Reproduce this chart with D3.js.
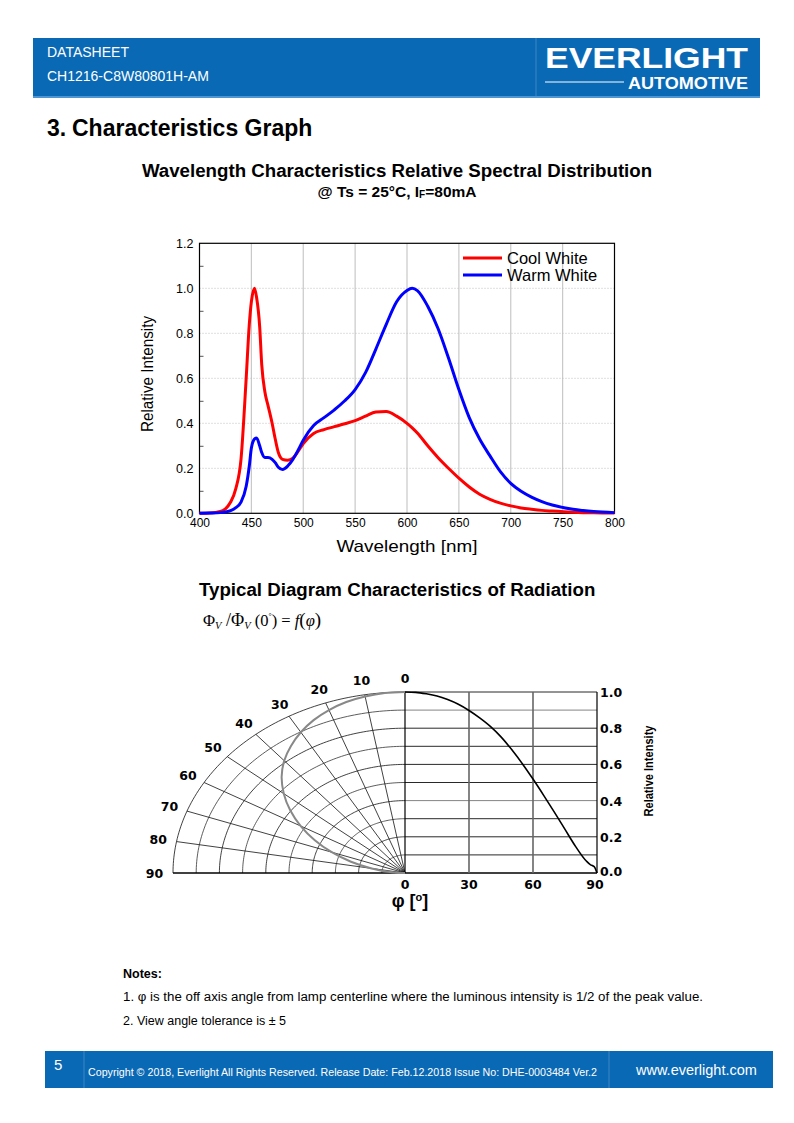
<!DOCTYPE html>
<html>
<head>
<meta charset="utf-8">
<script src="https://cdn.jsdelivr.net/npm/d3@7"></script>
<style>
  body { margin: 0; background: #fff; }
  svg { display: block; font-family: "Liberation Sans", Arial, sans-serif; }
</style>
</head>
<body>
<svg id="page" width="794" height="1123"></svg>
<script>
// ---- spectral data ----
var wavelengths = [400,410,420,425,430,435,440,445,448,450,453,455,458,460,463,466,470,473,476,480,485,490,495,500,510,520,530,540,550,560,570,580,590,600,605,610,620,630,640,650,660,670,680,690,700,710,720,730,740,760,780,800];
var coolWhite = [0,0.001,0.008,0.02,0.05,0.11,0.24,0.60,0.84,0.94,1.00,0.96,0.83,0.66,0.54,0.48,0.40,0.33,0.27,0.24,0.236,0.245,0.275,0.31,0.355,0.372,0.385,0.398,0.412,0.432,0.450,0.452,0.432,0.400,0.38,0.357,0.300,0.247,0.200,0.156,0.117,0.085,0.062,0.045,0.033,0.024,0.018,0.013,0.010,0.005,0.002,0.001];
var warmWhite = [0,0.001,0.003,0.006,0.012,0.025,0.05,0.12,0.21,0.29,0.33,0.335,0.30,0.27,0.248,0.248,0.24,0.225,0.205,0.195,0.21,0.24,0.28,0.325,0.39,0.425,0.46,0.50,0.55,0.625,0.73,0.84,0.94,0.99,1.0,0.99,0.92,0.82,0.69,0.55,0.425,0.33,0.255,0.185,0.133,0.098,0.072,0.052,0.037,0.018,0.008,0.003];
var seriesNames = ["Cool White","Warm White"];
var seriesColors = ["#ff0000","#0000ff"];
var xTicks = [400,450,500,550,600,650,700,750,800];
var yTicks = [0,0.2,0.4,0.6,0.8,1.0,1.2];

// ---- radiation data ----
var angles = [0,5,10,15,20,25,30,35,40,45,50,55,60,65,70,75,80,85,87,88,89,90];
var intensity = [1,0.998,0.99,0.978,0.958,0.932,0.898,0.857,0.81,0.752,0.682,0.604,0.519,0.429,0.336,0.241,0.146,0.066,0.045,0.04,0.03,0];
var polarLabels = [0,10,20,30,40,50,60,70,80,90];
var angleTicks = [0,30,60,90];
var intTicks = [0,0.2,0.4,0.6,0.8,1.0];

var svg = d3.select("#page");
var blue = "#0a69b4";
var heavy = "DejaVu Sans, Liberation Sans, sans-serif";

// ---- header ----
svg.append("rect").attr("x",33).attr("y",38).attr("width",727).attr("height",60).attr("fill",blue);
svg.append("rect").attr("x",33).attr("y",96).attr("width",727).attr("height",2).attr("fill","#4d95d3");
svg.append("line").attr("x1",536).attr("x2",536).attr("y1",38).attr("y2",96).attr("stroke","#3f86c6").attr("stroke-width",1);
svg.append("text").attr("x",47).attr("y",57).attr("fill","#fff").attr("font-size",14).text("DATASHEET");
svg.append("text").attr("x",47).attr("y",81).attr("fill","#fff").attr("font-size",14).text("CH1216-C8W80801H-AM");
svg.append("text").attr("x",545).attr("y",68).attr("fill","#fff").attr("font-size",30).attr("font-weight","bold")
  .attr("textLength",203).attr("lengthAdjust","spacingAndGlyphs").text("EVERLIGHT");
svg.append("line").attr("x1",545).attr("x2",624).attr("y1",82).attr("y2",82).attr("stroke","#fff").attr("stroke-width",1);
svg.append("text").attr("x",628).attr("y",89).attr("fill","#fff").attr("font-size",17).attr("font-weight","bold")
  .attr("textLength",120).attr("lengthAdjust","spacingAndGlyphs").text("AUTOMOTIVE");

// ---- section title ----
svg.append("text").attr("x",47).attr("y",136).attr("font-size",23).attr("font-weight","bold").text("3.");
svg.append("text").attr("x",72).attr("y",136).attr("font-size",23).attr("font-weight","bold").text("Characteristics Graph");

// ---- spectral chart ----
svg.append("text").attr("x",397).attr("y",177).attr("text-anchor","middle").attr("font-size",18.7).attr("font-weight","bold")
  .text("Wavelength Characteristics Relative Spectral Distribution");
var sub = svg.append("text").attr("x",397).attr("y",197).attr("text-anchor","middle").attr("font-size",15.5).attr("font-weight","bold");
sub.append("tspan").text("@ Ts = 25°C, I");
sub.append("tspan").attr("font-size",10).attr("dy",1).text("F");
sub.append("tspan").attr("dy",-1).text("=80mA");

var x = d3.scaleLinear().domain([400,800]).range([199.5,614.5]);
var y = d3.scaleLinear().domain([0,1.2]).range([513.3,243.3]);

var g = svg.append("g");
// vertical grid
g.selectAll(".vg").data(xTicks.slice(1,-1)).enter().append("line")
  .attr("x1",function(d){return x(d);}).attr("x2",function(d){return x(d);})
  .attr("y1",y(0)).attr("y2",y(1.2)).attr("stroke","#c8c8c8").attr("stroke-width",1.2);
// horizontal dotted grid
g.selectAll(".hg").data(yTicks.slice(1,-1)).enter().append("line")
  .attr("x1",x(400)).attr("x2",x(800))
  .attr("y1",function(d){return y(d);}).attr("y2",function(d){return y(d);})
  .attr("stroke","#bdbdbd").attr("stroke-width",1).attr("stroke-dasharray","1,2");
// minor ticks inside left
g.append("g").attr("transform","translate("+x(400)+",0)")
  .call(d3.axisRight(y).tickValues([0.1,0.3,0.5,0.7,0.9,1.1]).tickSize(4).tickFormat(""))
  .call(function(a){a.select(".domain").remove(); a.selectAll("line").attr("stroke","#555");});
// frame
g.append("rect").attr("x",x(400)).attr("y",y(1.2)).attr("width",x(800)-x(400)).attr("height",y(0)-y(1.2))
  .attr("fill","none").attr("stroke","#000").attr("stroke-width",1.2);
// axes labels
var ya = g.append("g").attr("transform","translate("+x(400)+",0)")
  .call(d3.axisLeft(y).tickValues(yTicks).tickSize(0).tickPadding(6).tickFormat(d3.format(".1f")));
ya.select(".domain").remove();
ya.selectAll("text").attr("font-size",12.5).attr("font-family","Liberation Sans, Arial").attr("fill","#000");
var xa = g.append("g").attr("transform","translate(0,"+y(0)+")")
  .call(d3.axisBottom(x).tickValues(xTicks).tickSize(0).tickPadding(5));
xa.select(".domain").remove();
xa.selectAll("text").attr("font-size",12).attr("font-family","Liberation Sans, Arial").attr("fill","#000");

g.append("text").attr("x",407).attr("y",552).attr("text-anchor","middle").attr("font-size",17)
  .attr("textLength",141).attr("lengthAdjust","spacingAndGlyphs").text("Wavelength [nm]");
g.append("text").attr("transform","translate(153,374) rotate(-90)").attr("text-anchor","middle").attr("font-size",16)
  .attr("textLength",116).attr("lengthAdjust","spacingAndGlyphs").text("Relative Intensity");

var line = d3.line().x(function(d){return x(d[0]);}).y(function(d){return y(d[1]);}).curve(d3.curveMonotoneX);
[coolWhite, warmWhite].forEach(function(vals,i){
  g.append("path").datum(wavelengths.map(function(w,k){return [w, vals[k]];}))
    .attr("d",line).attr("fill","none").attr("stroke",seriesColors[i]).attr("stroke-width",3).attr("stroke-linejoin","round");
});
// legend
seriesNames.forEach(function(n,i){
  var ly = 258 + i*17;
  g.append("line").attr("x1",463).attr("x2",502).attr("y1",ly).attr("y2",ly).attr("stroke",seriesColors[i]).attr("stroke-width",3);
  g.append("text").attr("x",507).attr("y",ly+5.5).attr("font-size",16.5).text(n);
});

// ---- radiation diagram ----
svg.append("text").attr("x",199).attr("y",596).attr("font-size",18.7).attr("font-weight","bold")
  .text("Typical Diagram Characteristics of Radiation");
var f = svg.append("text").attr("x",203).attr("y",626).attr("font-family","Liberation Serif, Times New Roman, serif").attr("font-size",16.5);
f.append("tspan").text("Φ");
f.append("tspan").attr("font-size",10.5).attr("dy",3).attr("font-style","italic").text("V");
f.append("tspan").attr("dy",-3).attr("font-size",18).text(" /Φ");
f.append("tspan").attr("font-size",10.5).attr("dy",3).attr("font-style","italic").text("V");
f.append("tspan").attr("dy",-3).text(" (0");
f.append("tspan").attr("font-size",8).attr("dy",-7).text("°");
f.append("tspan").attr("dy",7).text(") = ");
f.append("tspan").attr("font-style","italic").text("f");
f.append("tspan").attr("font-size",19).text("(");
f.append("tspan").attr("font-style","italic").text("φ");
f.append("tspan").attr("font-size",19).text(")");

var ax = d3.scaleLinear().domain([0,90]).range([405,597]);   // angle axis (right)
var iy = d3.scaleLinear().domain([0,1]).range([873,692]);    // intensity (vertical)
var rx = d3.scaleLinear().domain([0,1]).range([0,232]);      // polar horizontal radius
var cx = ax(0);
var rad = Math.PI/180;
function px(r,a){ return cx - rx(r*Math.sin(a*rad)); }
function py(r,a){ return iy(r*Math.cos(a*rad)); }

var pg = svg.append("g");
var arcAngles = d3.range(0,91,1);
var ringLine = d3.line().x(function(d){return d[0];}).y(function(d){return d[1];});
d3.range(1,11).forEach(function(k){
  var r = k/10;
  pg.append("path").datum(arcAngles.map(function(a){return [px(r,a),py(r,a)];}))
    .attr("d",ringLine).attr("fill","none").attr("stroke", k%2 ? "#333" : "#111").attr("stroke-width",0.8);
});
d3.range(10,90,10).forEach(function(a){
  pg.append("line").attr("x1",px(0,a)).attr("y1",py(0,a)).attr("x2",px(1,a)).attr("y2",py(1,a))
    .attr("stroke","#111").attr("stroke-width",0.8);
});
// baseline
pg.append("line").attr("x1",px(1,90)).attr("x2",ax(90)).attr("y1",iy(0)).attr("y2",iy(0)).attr("stroke","#000").attr("stroke-width",1.3);
// right grid
d3.range(1,11).forEach(function(k){
  pg.append("line").attr("x1",ax(0)).attr("x2",ax(90)).attr("y1",iy(k/10)).attr("y2",iy(k/10))
    .attr("stroke", k==9||k==4 ? "#777" : "#111").attr("stroke-width",0.9);
});
[30,60].forEach(function(a){
  pg.append("line").attr("x1",ax(a)).attr("x2",ax(a)).attr("y1",iy(0)).attr("y2",iy(1)).attr("stroke","#666").attr("stroke-width",1.6);
});
pg.append("line").attr("x1",ax(0)).attr("x2",ax(0)).attr("y1",iy(0)).attr("y2",iy(1)).attr("stroke","#000").attr("stroke-width",1.2);
pg.append("line").attr("x1",ax(90)).attr("x2",ax(90)).attr("y1",iy(0)).attr("y2",iy(1)).attr("stroke","#000").attr("stroke-width",1.2);

// polar curve (gray)
pg.append("path").datum(angles.map(function(a,k){return [px(intensity[k],a),py(intensity[k],a)];}))
  .attr("d",d3.line().curve(d3.curveCatmullRom)).attr("fill","none").attr("stroke","#888").attr("stroke-width",2);
// cartesian curve (black)
pg.append("path").datum(angles.map(function(a,k){return [ax(a),iy(intensity[k])];}))
  .attr("d",d3.line().curve(d3.curveMonotoneX)).attr("fill","none").attr("stroke","#000").attr("stroke-width",1.6);

// labels
polarLabels.forEach(function(a){
  pg.append("text").attr("x",px(1.08,a)).attr("y",py(1.08,a)+5).attr("text-anchor","middle")
    .attr("font-family",heavy).attr("font-size",12.5).attr("font-weight","bold").text(a);
});
intTicks.forEach(function(v){
  pg.append("text").attr("x",600).attr("y",iy(v)+(v===0 ? 3 : 5)).attr("font-family",heavy).attr("font-size",12.5).attr("font-weight","bold").text(d3.format(".1f")(v));
});
angleTicks.forEach(function(a){
  pg.append("text").attr("x",ax(a) - (a===90 ? 2 : 0)).attr("y",889).attr("text-anchor","middle").attr("font-family",heavy).attr("font-size",12.5).attr("font-weight","bold").text(a);
});
var phi = pg.append("text").attr("x",410).attr("y",907).attr("text-anchor","middle").attr("font-size",18).attr("font-weight","bold");
phi.append("tspan").text("φ [");
phi.append("tspan").attr("font-size",11).attr("dy",-6).text("o");
phi.append("tspan").attr("dy",6).text("]");
pg.append("text").attr("transform","translate(653,771) rotate(-90)").attr("text-anchor","middle").attr("font-size",12).attr("font-weight","bold")
  .attr("textLength",91).attr("lengthAdjust","spacingAndGlyphs").text("Relative Intensity");

// ---- notes ----
svg.append("text").attr("x",123).attr("y",978).attr("font-size",12.5).attr("font-weight","bold").text("Notes:");
svg.append("text").attr("x",123).attr("y",1001).attr("font-size",12.5)
  .attr("textLength",580).attr("lengthAdjust","spacingAndGlyphs")
  .text("1. φ is the off axis angle from lamp centerline where the luminous intensity is 1/2 of the peak value.");
svg.append("text").attr("x",123).attr("y",1025).attr("font-size",12.5).text("2. View angle tolerance is ± 5");

// ---- footer ----
svg.append("rect").attr("x",45).attr("y",1051).attr("width",728).attr("height",37).attr("fill",blue);
svg.append("line").attr("x1",84).attr("x2",84).attr("y1",1051).attr("y2",1088).attr("stroke","#3f86c6");
svg.append("line").attr("x1",609).attr("x2",609).attr("y1",1051).attr("y2",1088).attr("stroke","#3f86c6");
svg.append("text").attr("x",54).attr("y",1070).attr("fill","#fff").attr("font-size",15).text("5");
svg.append("text").attr("x",88).attr("y",1076).attr("fill","#fff").attr("font-size",11)
  .attr("textLength",509).attr("lengthAdjust","spacingAndGlyphs")
  .text("Copyright © 2018, Everlight All Rights Reserved. Release Date: Feb.12.2018 Issue No: DHE-0003484 Ver.2");
svg.append("text").attr("x",636).attr("y",1075).attr("fill","#fff").attr("font-size",14.5).text("www.everlight.com");
</script>
</body>
</html>
